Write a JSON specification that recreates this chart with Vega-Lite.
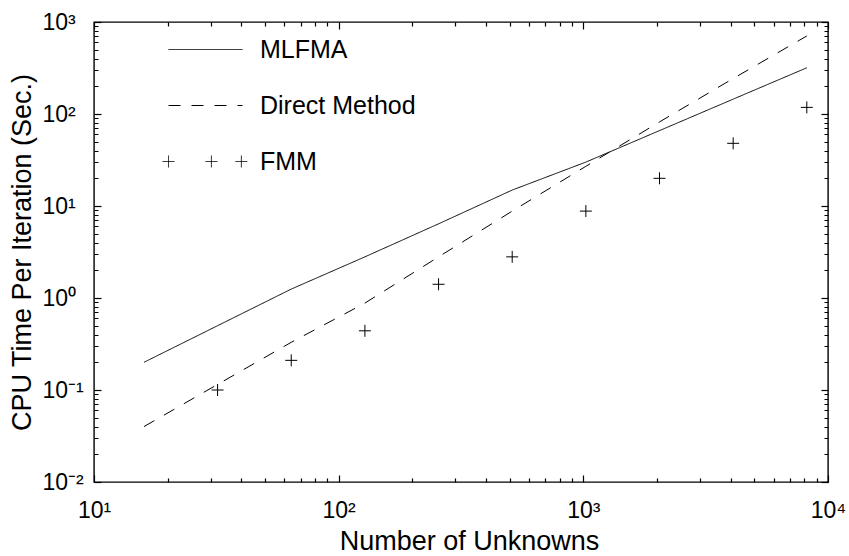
{
  "$schema": "https://vega.github.io/schema/vega-lite/v6.json",
  "width": 734,
  "height": 460,
  "autosize": "none",
  "padding": {"left": 94, "top": 22, "right": 21, "bottom": 74},
  "background": "white",
  "config": {
    "font": "Liberation Sans",
    "view": {"stroke": "black", "strokeWidth": 1.4},
    "axis": {
      "labelFont": "Liberation Sans",
      "titleFont": "Liberation Sans",
      "labelFontSize": 23,
      "titleFontSize": 27,
      "titleFontWeight": "normal",
      "labelColor": "black",
      "titleColor": "black",
      "ticks": true,
      "tickColor": "black",
      "tickWidth": 1.2,
      "tickSize": 7,
      "offset": -7,
      "zindex": 1,
      "domain": false,
      "grid": false,
      "labelFlush": false,
      "labelOverlap": false,
      "labelBound": false
    }
  },
  "datasets": {
    "lines": [
      {"n": 16, "t": 0.2, "method": "MLFMA"},
      {"n": 32, "t": 0.5, "method": "MLFMA"},
      {"n": 64, "t": 1.25, "method": "MLFMA"},
      {"n": 128, "t": 2.8, "method": "MLFMA"},
      {"n": 256, "t": 6.4, "method": "MLFMA"},
      {"n": 512, "t": 14.9, "method": "MLFMA"},
      {"n": 1024, "t": 30, "method": "MLFMA"},
      {"n": 2048, "t": 66, "method": "MLFMA"},
      {"n": 4096, "t": 145, "method": "MLFMA"},
      {"n": 8192, "t": 318, "method": "MLFMA"},
      {"n": 16, "t": 0.04, "method": "Direct Method"},
      {"n": 32, "t": 0.115, "method": "Direct Method"},
      {"n": 64, "t": 0.33, "method": "Direct Method"},
      {"n": 128, "t": 0.88, "method": "Direct Method"},
      {"n": 256, "t": 2.8, "method": "Direct Method"},
      {"n": 512, "t": 8.8, "method": "Direct Method"},
      {"n": 1024, "t": 27, "method": "Direct Method"},
      {"n": 2048, "t": 82, "method": "Direct Method"},
      {"n": 4096, "t": 243, "method": "Direct Method"},
      {"n": 8192, "t": 705, "method": "Direct Method"}
    ],
    "fmm": [
      {"n": 32, "t": 0.1, "method": "FMM"},
      {"n": 64, "t": 0.21, "method": "FMM"},
      {"n": 128, "t": 0.44, "method": "FMM"},
      {"n": 256, "t": 1.41, "method": "FMM"},
      {"n": 512, "t": 2.8, "method": "FMM"},
      {"n": 1024, "t": 8.8, "method": "FMM"},
      {"n": 2048, "t": 20, "method": "FMM"},
      {"n": 4096, "t": 48, "method": "FMM"},
      {"n": 8192, "t": 118, "method": "FMM"}
    ]
  },
  "layer": [
    {
      "data": {"name": "lines"},
      "mark": {"type": "line", "color": "black", "strokeWidth": 1, "clip": true},
      "encoding": {
        "x": {
          "field": "n", "type": "quantitative",
          "scale": {"type": "log", "domain": [10, 10000], "nice": false},
          "axis": {
            "orient": "bottom",
            "title": "Number of Unknowns",
            "titlePadding": 6,
            "titleX": 375,
            "values": [10,20,30,40,50,60,70,80,90,100,200,300,400,500,600,700,800,900,1000,2000,3000,4000,5000,6000,7000,8000,9000,10000],
            "labelExpr": "datum.value == 10 ? '10¹' : datum.value == 100 ? '10²' : datum.value == 1000 ? '10³' : datum.value == 10000 ? '10⁴' : ''",
            "labelPadding": 17,
            "tickDash": {"condition": {"test": "indexof([10,100,1000,10000], datum.value) >= 0", "value": [7, 0]}, "value": [0, 3, 4, 10]}
          }
        },
        "y": {
          "field": "t", "type": "quantitative",
          "scale": {"type": "log", "domain": [0.01, 1000], "nice": false},
          "axis": {
            "orient": "left",
            "title": "CPU Time Per Iteration (Sec.)",
            "titlePadding": 6,
            "values": [0.01,0.02,0.03,0.04,0.05,0.06,0.07,0.08,0.09,0.1,0.2,0.3,0.4,0.5,0.6,0.7,0.8,0.9,1,2,3,4,5,6,7,8,9,10,20,30,40,50,60,70,80,90,100,200,300,400,500,600,700,800,900,1000],
            "labelExpr": "datum.value == 0.01 ? '10⁻²' : datum.value == 0.1 ? '10⁻¹' : datum.value == 1 ? '10⁰' : datum.value == 10 ? '10¹' : datum.value == 100 ? '10²' : datum.value == 1000 ? '10³' : ''",
            "labelAlign": "left",
            "labelPadding": 52,
            "tickDash": {"condition": {"test": "indexof([0.01,0.1,1,10,100,1000], datum.value) >= 0", "value": [7, 0]}, "value": [0, 3, 4, 10]}
          }
        },
        "strokeDash": {
          "field": "method", "type": "nominal",
          "scale": {"domain": ["MLFMA", "Direct Method", "FMM"], "range": [[1, 0], [12, 11], [1, 0]]},
          "legend": {
            "orient": "none",
            "legendX": 74,
            "legendY": -10,
            "title": null,
            "padding": 0,
            "symbolType": "stroke",
            "symbolSize": 5476,
            "symbolStrokeWidth": 1,
            "symbolStrokeColor": "black",
            "symbolFillColor": "transparent",
            "labelFont": "Liberation Sans",
            "labelFontSize": 25,
            "labelColor": "black",
            "labelOffset": 17,
            "rowPadding": 5,
            "encode": {
              "symbols": {
                "update": {
                  "shape": {"signal": "datum.value === 'FMM' ? 'M-1.16,0H-0.84M-1,-0.16V0.16M0,0H0.32M0.16,-0.16V0.16M0.81,0H1.13M0.97,-0.16V0.16' : 'stroke'"}
                }
              }
            }
          }
        }
      }
    },
    {
      "data": {"name": "fmm"},
      "mark": {"type": "point", "shape": "M-1,0H1M0,-1V1", "size": 144, "stroke": "black", "strokeWidth": 1, "filled": false, "opacity": 1, "clip": true},
      "encoding": {
        "x": {
          "field": "n", "type": "quantitative",
          "axis": {
            "orient": "top",
            "title": null,
            "labels": false,
            "values": [10,20,30,40,50,60,70,80,90,100,200,300,400,500,600,700,800,900,1000,2000,3000,4000,5000,6000,7000,8000,9000,10000],
            "tickDash": {"condition": {"test": "indexof([10,100,1000,10000], datum.value) >= 0", "value": [7, 0]}, "value": [0, 3, 4, 10]}
          }
        },
        "y": {
          "field": "t", "type": "quantitative",
          "axis": {
            "orient": "right",
            "title": null,
            "labels": false,
            "values": [0.01,0.02,0.03,0.04,0.05,0.06,0.07,0.08,0.09,0.1,0.2,0.3,0.4,0.5,0.6,0.7,0.8,0.9,1,2,3,4,5,6,7,8,9,10,20,30,40,50,60,70,80,90,100,200,300,400,500,600,700,800,900,1000],
            "tickDash": {"condition": {"test": "indexof([0.01,0.1,1,10,100,1000], datum.value) >= 0", "value": [7, 0]}, "value": [0, 3, 4, 10]}
          }
        }
      }
    }
  ]
}
